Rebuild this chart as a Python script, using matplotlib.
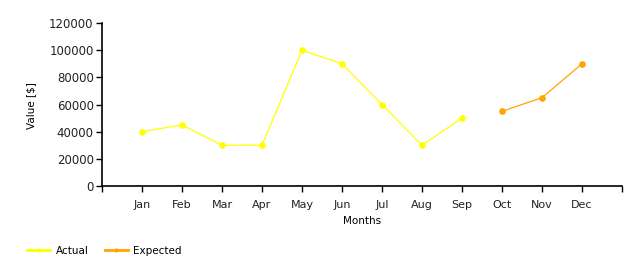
import matplotlib
matplotlib.use("Agg")
import matplotlib.pyplot as plt
from matplotlib.lines import Line2D

months = ["Jan", "Feb", "Mar", "Apr", "May", "Jun", "Jul", "Aug", "Sep", "Oct", "Nov", "Dec"]
actual_months = months[:9]
actual_values = [40000, 45000, 30000, 30000, 100000, 90000, 60000, 30000, 50000]
expected_months = months[9:]
expected_values = [55000, 65000, 90000]
yticks = [0, 20000, 40000, 60000, 80000, 100000, 120000]

plt.rcParams['font.family'] = ['DejaVu Sans']
fs = 7.5
yellow = "#FFFF00"
orange = "#FFA500"

fig = plt.figure(figsize=(6.42, 2.68), dpi=100)
ax = fig.add_axes([102/642, (268-186)/268, 520/642, (186-23)/268])

pos = {m: i + 1 for i, m in enumerate(months)}
ax.plot([pos[m] for m in actual_months], actual_values, color=yellow, lw=0.9,
        marker='o', ms=3.8, mfc=yellow, mec=yellow, label="Actual")
ax.plot([pos[m] for m in expected_months], expected_values, color=orange, lw=0.9,
        marker='o', ms=3.8, mfc=orange, mec=orange, label="Expected")

ax.set_xlim(0, 13)
ax.set_ylim(0, 120000)
ax.set_yticks(yticks)
ax.set_yticklabels([str(v) for v in yticks], fontsize=8.5, color="#222222")
ax.set_xticks(range(0, 14))
ax.set_xticklabels([""] + months + [""], fontsize=8, color="#222222")
ax.tick_params(axis='both', direction='out', length=4, width=1, color='black', pad=6)
ax.tick_params(axis='y', pad=2)
for s in ["top", "right"]:
    ax.spines[s].set_visible(False)
for s in ["left", "bottom"]:
    ax.spines[s].set_linewidth(1.2)

fig.text(31/642, 1 - 106/268, "Value [$]", rotation=90, ha='center', va='center', fontsize=fs)
fig.text(362/642, 1 - 221/268, "Months", ha='center', va='center', fontsize=fs)

handles = [Line2D([0], [0], color=yellow, lw=2, marker='o', ms=2, mfc=yellow, mec=yellow),
           Line2D([0], [0], color=orange, lw=2, marker='o', ms=2, mfc=orange, mec=orange)]
fig.legend(handles, ["Actual", "Expected"], loc='center left',
           bbox_to_anchor=(18/642, 1 - 251/268), ncol=2, frameon=False,
           fontsize=fs, handlelength=2.2, handletextpad=0.5, columnspacing=1.6)

fig.savefig("out.png", dpi=100)
